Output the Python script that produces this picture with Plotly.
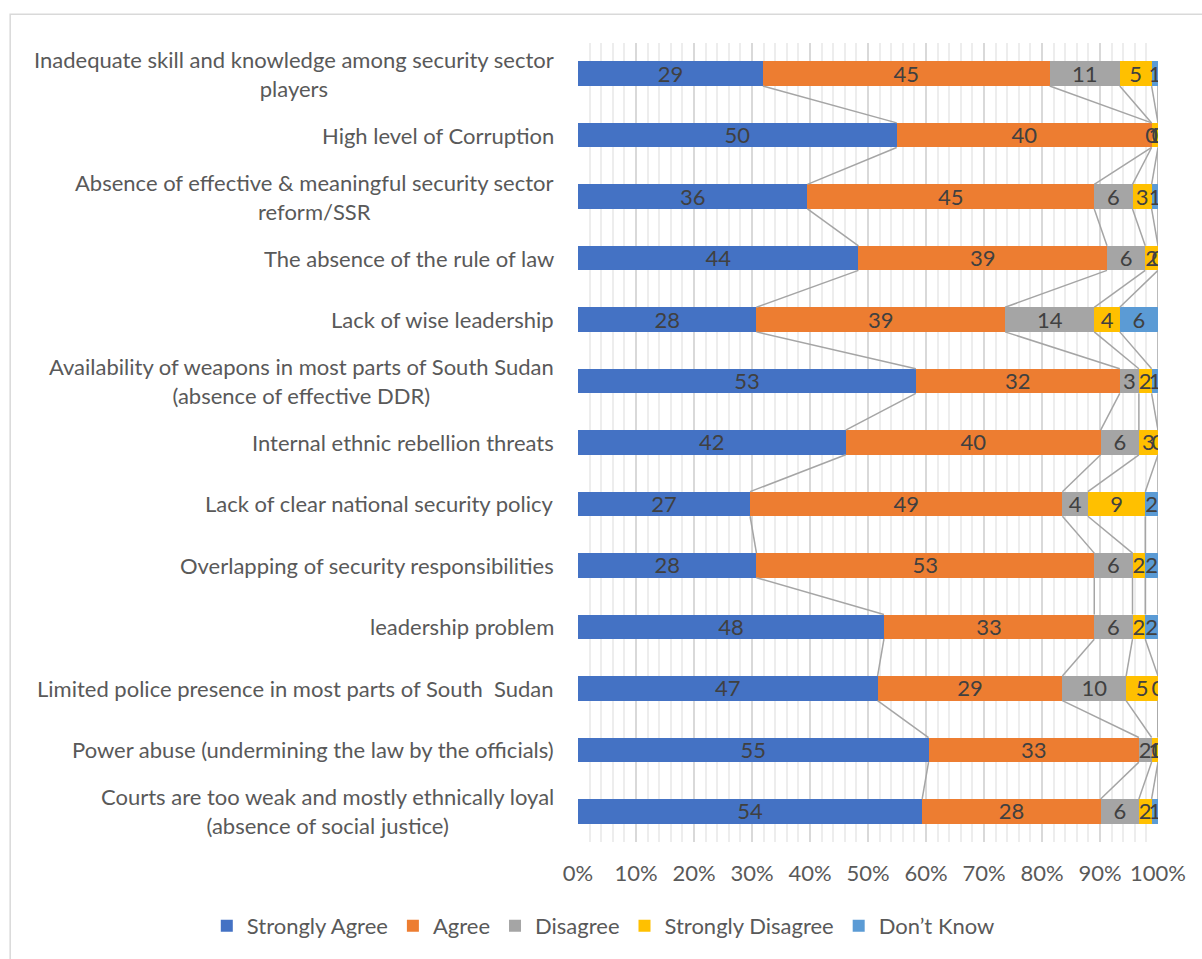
import plotly.graph_objects as go

categories = [
    "Inadequate skill and knowledge among security sector<br>players",
    "High level of Corruption",
    "Absence of effective & meaningful security sector<br>reform/SSR",
    "The absence of the rule of law",
    "Lack of wise leadership",
    "Availability of weapons in most parts of South Sudan<br>(absence of effective DDR)",
    "Internal ethnic rebellion threats",
    "Lack of clear national security policy",
    "Overlapping of security responsibilities",
    "leadership problem",
    "Limited police presence in most parts of South  Sudan",
    "Power abuse (undermining the law by the officials)",
    "Courts are too weak and mostly ethnically loyal<br>(absence of social justice)",
]
series_names = ["Strongly Agree", "Agree", "Disagree", "Strongly Disagree", "Don\u2019t Know"]
strongly_agree = [29, 50, 36, 44, 28, 53, 42, 27, 28, 48, 47, 55, 54]
agree = [45, 40, 45, 39, 39, 32, 40, 49, 53, 33, 29, 33, 28]
disagree = [11, 0, 6, 6, 14, 3, 6, 4, 6, 6, 10, 2, 6]
strongly_disagree = [5, 1, 3, 2, 4, 2, 3, 9, 2, 2, 5, 1, 2]
dont_know = [1, 0, 1, 0, 6, 1, 0, 2, 2, 2, 0, 0, 1]
colors = ["#4472C4", "#ED7D31", "#A5A5A5", "#FFC000", "#5B9BD5"]

series = [strongly_agree, agree, disagree, strongly_disagree, dont_know]
n = len(categories)
ypos = list(range(n))
BAR_W = 0.4
FONT = "Lato"
FS = 22

fig = go.Figure()

# cumulative percentages for labels and series lines
totals = [sum(s[i] for s in series) for i in range(n)]
cum = []  # cum[k][i] = right edge after series k
run = [0.0] * n
for s in series:
    run = [run[i] + s[i] / totals[i] * 100 for i in range(n)]
    cum.append(run[:])

# series lines
for k in range(len(series)):
    xs, ys = [], []
    for i in range(n - 1):
        xs += [cum[k][i], cum[k][i + 1], None]
        ys += [i + BAR_W / 2, i + 1 - BAR_W / 2, None]
    fig.add_trace(go.Scatter(x=xs, y=ys, mode="lines", line=dict(color="#A5A5A5", width=1.5),
                             hoverinfo="skip", showlegend=False))

for k, (name, s, c) in enumerate(zip(series_names, series, colors)):
    fig.add_trace(go.Bar(y=ypos, x=s, name=name, orientation="h", width=BAR_W,
                         marker=dict(color=c, line=dict(width=0))))

# data labels
for k, s in enumerate(series):
    xs = [(cum[k][i] + (cum[k - 1][i] if k > 0 else 0)) / 2 for i in range(n)]
    fig.add_trace(go.Scatter(x=xs, y=[y + 0.04 for y in ypos], mode="text",
                             text=[str(v) for v in s],
                             textposition="middle center",
                             textfont=dict(family=FONT, size=FS, color="#404040"),
                             hoverinfo="skip", showlegend=False))

for i, cat in enumerate(categories):
    fig.add_annotation(x=-0.038, xref="paper", y=i, yref="y", text=cat, showarrow=False,
                       xanchor="right", yanchor="middle", align="center",
                       font=dict(family=FONT, size=FS, color="#595959"))

fig.add_shape(type="rect", xref="paper", yref="paper", x0=-0.979, y0=-0.3, x1=1.2, y1=1.036,
              line=dict(color="#D9D9D9", width=1.5), layer="below")

fig.update_layout(
    barmode="stack", barnorm="percent",
    width=1202, height=959,
    margin=dict(l=578, r=44, t=43, b=115),
    paper_bgcolor="white", plot_bgcolor="white",
    font=dict(family=FONT, size=FS, color="#595959"),
    legend=dict(orientation="h", x=-0.64, xanchor="left",
                y=-0.105, yanchor="middle",
                font=dict(family=FONT, size=FS, color="#595959"), traceorder="normal",
                itemwidth=30),
    xaxis=dict(range=[0, 100], dtick=10, ticksuffix="%", showgrid=True, gridcolor="#D9D9D9",
               gridwidth=1.5, zeroline=False, showline=False, ticks="",
               ticklabelstandoff=16,
               tickfont=dict(family=FONT, size=FS, color="#595959"),
               minor=dict(dtick=2, showgrid=True, gridcolor="#EDEDED", gridwidth=1.5)),
    yaxis=dict(range=[n - 0.5, -0.5], tickvals=ypos, showticklabels=False, showgrid=False,
               zeroline=False, showline=False),
)

fig.write_html("out.html")
